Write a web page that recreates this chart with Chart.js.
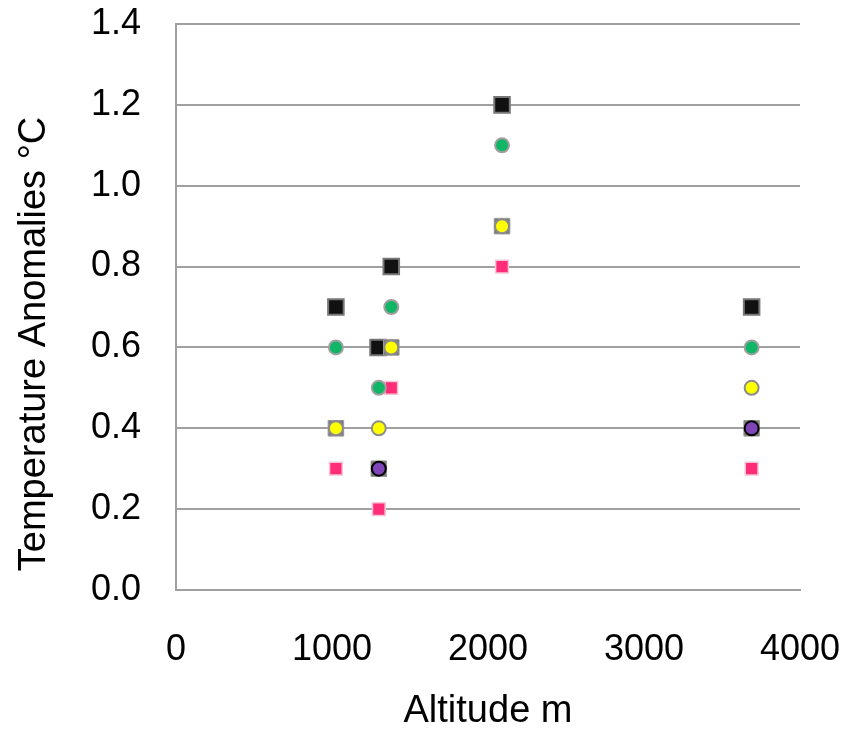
<!DOCTYPE html>
<html>
<head>
<meta charset="utf-8">
<script src="https://cdn.jsdelivr.net/npm/chart.js@4/dist/chart.umd.min.js"></script>
<style>
  html, body { margin: 0; padding: 0; background: #fff; }
  #wrap { width: 846px; height: 730px; }
</style>
</head>
<body>
<div id="wrap"><canvas id="chart"></canvas></div>
<script>
// altitude (m) and anomaly (°C) per series
var blackX  = [1025, 1295, 1380, 2090, 3690];
var blackY  = [0.7, 0.6, 0.8, 1.2, 0.7];
var greenX  = [1025, 1300, 1380, 2090, 3690];
var greenY  = [0.6, 0.5, 0.7, 1.1, 0.6];
var yellowX = [1025, 1300, 1380, 2090, 3690];
var yellowY = [0.4, 0.4, 0.6, 0.9, 0.5];
var grayX   = [1025, 1300, 1380, 2090, 3690];
var grayY   = [0.4, 0.3, 0.6, 0.9, 0.4];
var purpleX = [1300, 3690];
var purpleY = [0.3, 0.4];
var pinkX   = [1025, 1300, 1380, 2090, 3690];
var pinkY   = [0.3, 0.2, 0.5, 0.8, 0.3];

var xTicks = [0, 1000, 2000, 3000, 4000];
var yTicks = [0.0, 0.2, 0.4, 0.6, 0.8, 1.0, 1.2, 1.4];

function pts(xs, ys) {
  return xs.map(function (x, i) { return { x: x, y: ys[i] }; });
}

var tickFont = { family: '"Liberation Sans", Arial, sans-serif', size: 36 };
var titleFont = { family: '"Liberation Sans", Arial, sans-serif', size: 38 };

// first dataset is drawn on top
var ctx = document.getElementById('chart').getContext('2d');
var chart = new Chart(ctx, {
  type: 'scatter',
  data: {
    datasets: [
      { label: 'purple', data: pts(purpleX, purpleY), pointStyle: 'circle', pointRadius: 7,
        backgroundColor: '#7f45b8', borderColor: '#000', borderWidth: 2 },
      { label: 'green', data: pts(greenX, greenY), pointStyle: 'circle', pointRadius: 7,
        backgroundColor: '#10b565', borderColor: '#a0a0a0', borderWidth: 2 },
      { label: 'yellow', data: pts(yellowX, yellowY), pointStyle: 'circle', pointRadius: 7,
        backgroundColor: '#ffff00', borderColor: '#8c8c8c', borderWidth: 2 },
      { label: 'gray', data: pts(grayX, grayY), pointStyle: 'rect', pointRadius: 11,
        backgroundColor: '#7a7a7a', borderColor: '#9a9a9a', borderWidth: 1 },
      { label: 'black', data: pts(blackX, blackY), pointStyle: 'rect', pointRadius: 11,
        backgroundColor: '#111', borderColor: '#777', borderWidth: 2 },
      { label: 'pink', data: pts(pinkX, pinkY), pointStyle: 'rect', pointRadius: 9,
        backgroundColor: '#ff2c78', borderColor: '#f7c4d6', borderWidth: 1.5 }
    ]
  },
  options: {
    responsive: true,
    maintainAspectRatio: false,
    animation: false,
    layout: { padding: { top: 24, right: 46, bottom: 0, left: 0 } },
    plugins: { legend: { display: false }, tooltip: { enabled: false } },
    scales: {
      x: {
        type: 'linear', min: 0, max: 4000,
        afterBuildTicks: function (s) { s.ticks = xTicks.map(function (v) { return { value: v }; }); },
        afterFit: function (s) { s.height = 140; s.paddingLeft = 0; s.paddingRight = 0; },
        grid: { display: false, drawTicks: false },
        border: { display: true, color: '#a0a0a0', width: 2 },
        ticks: { font: tickFont, color: '#000', padding: 38, maxRotation: 0,
          callback: function (v) { return String(v); } },
        title: { display: true, text: 'Altitude m', font: titleFont, color: '#000', padding: { top: 0, bottom: -4 } }
      },
      y: {
        type: 'linear', min: 0, max: 1.4,
        afterBuildTicks: function (s) { s.ticks = yTicks.map(function (v) { return { value: v }; }); },
        afterFit: function (s) { s.width = 176; s.paddingTop = 0; s.paddingBottom = 0; },
        grid: { color: '#a0a0a0', lineWidth: 2, drawTicks: false },
        border: { display: true, color: '#a0a0a0', width: 2 },
        ticks: { font: tickFont, color: '#000', padding: 35,
          callback: function (v) { return Number(v).toFixed(1); } },
        // trailing spaces push the label down along the axis, as in the source
        title: { display: true, text: 'Temperature Anomalies °C       ', font: titleFont, color: '#000', padding: { top: 12, bottom: 0 } }
      }
    }
  }
});
</script>
</body>
</html>
